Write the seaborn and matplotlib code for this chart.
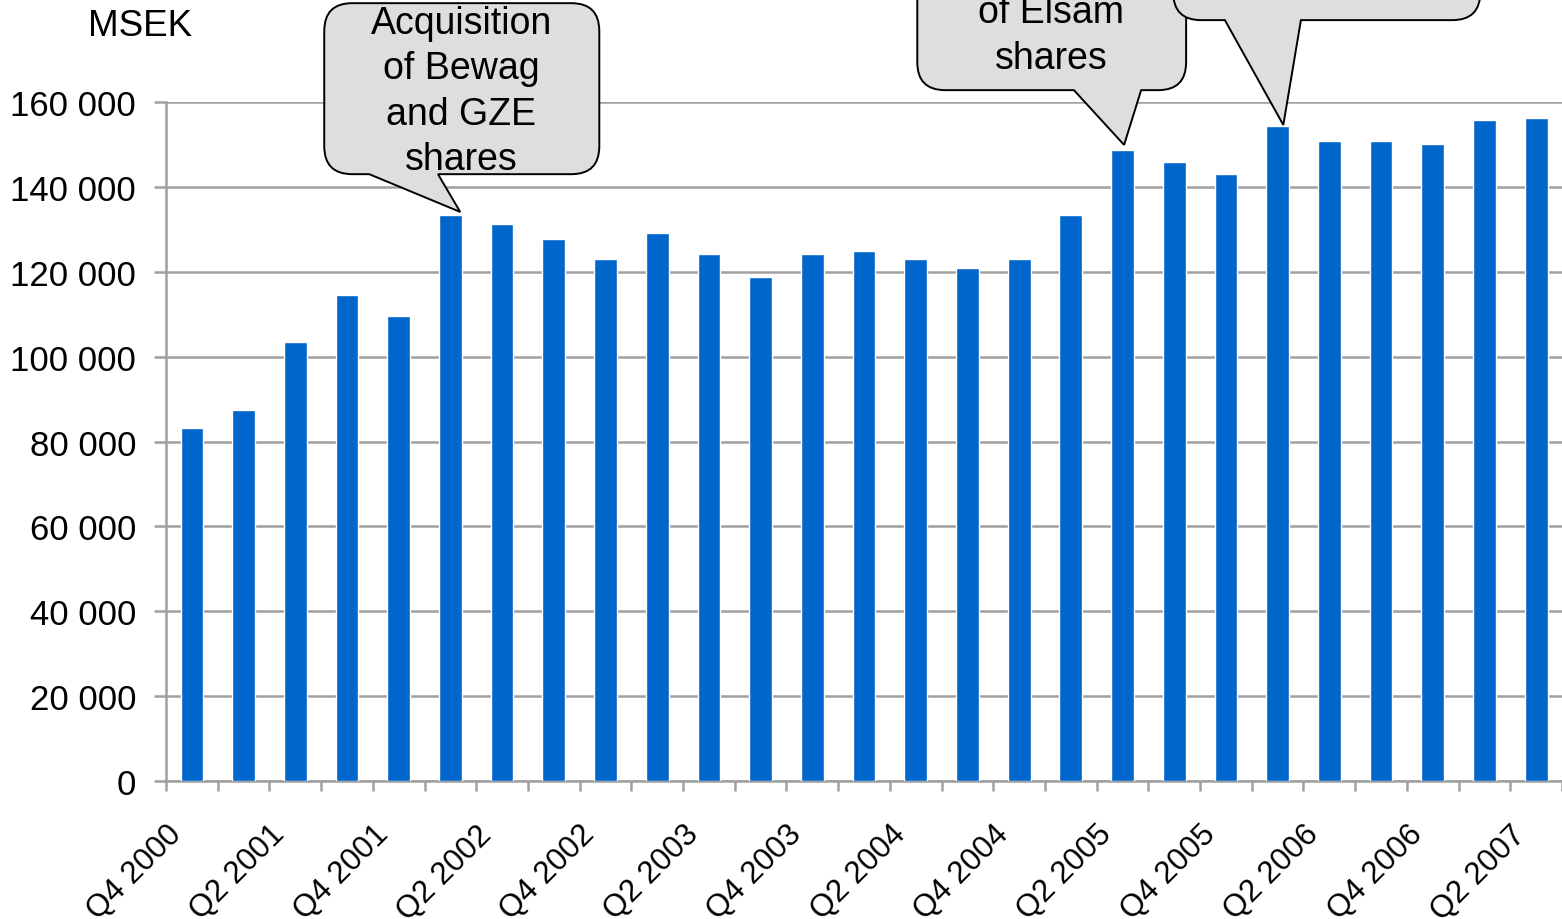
import matplotlib
matplotlib.use("Agg")
import matplotlib.pyplot as plt
import matplotlib.transforms as mtransforms
from matplotlib.path import Path
from matplotlib.patches import PathPatch
from matplotlib.ticker import FuncFormatter, MultipleLocator
import pandas as pd
import seaborn as sns

quarters = ["Q4 2000",
            "Q1 2001", "Q2 2001", "Q3 2001", "Q4 2001",
            "Q1 2002", "Q2 2002", "Q3 2002", "Q4 2002",
            "Q1 2003", "Q2 2003", "Q3 2003", "Q4 2003",
            "Q1 2004", "Q2 2004", "Q3 2004", "Q4 2004",
            "Q1 2005", "Q2 2005", "Q3 2005", "Q4 2005",
            "Q1 2006", "Q2 2006", "Q3 2006", "Q4 2006",
            "Q1 2007", "Q2 2007"]
msek = [83200, 87400, 103400, 114500, 109600,
        133400, 131200, 127700, 123000,
        129100, 124200, 118800, 124200,
        124900, 123000, 120900, 123000,
        133400, 148700, 145900, 143000,
        154300, 150800, 150800, 150100,
        155700, 156200]
shown_labels = quarters[::2]

df = pd.DataFrame({"Kvartal": quarters, "MSEK": msek})

sns.set_style("white")
plt.rcParams["font.family"] = ["Liberation Sans", "DejaVu Sans"]
plt.rcParams["text.color"] = "black"

grid_col = "#a0a0a0"
fig = plt.figure(figsize=(15.62, 9.2), dpi=100)
ax = fig.add_axes([0.1063, 0.15, 0.8937, 0.738])

sns.barplot(data=df, x="Kvartal", y="MSEK", order=quarters, color="#0066cc",
            saturation=1, width=0.44, ax=ax, zorder=3)

ax.set_xlim(-0.5, len(quarters) - 0.5)
ax.set_ylim(0, 160000)
ax.yaxis.set_major_locator(MultipleLocator(20000))
ax.yaxis.set_major_formatter(FuncFormatter(lambda v, p: f"{int(v):,}".replace(",", " ")))
ax.grid(axis="y", color=grid_col, linewidth=1.8, zorder=0)
ax.set_axisbelow(True)

for s in ["top", "right"]:
    ax.spines[s].set_visible(False)
for s in ["left", "bottom"]:
    ax.spines[s].set_color(grid_col)
    ax.spines[s].set_linewidth(1.8)

ax.set_xlabel("")
ax.set_ylabel("")
ax.tick_params(axis="y", labelsize=25, length=8.5, width=1.8, color=grid_col, pad=13,
               left=True, direction="out", labelcolor="black")

# labels on every other bar, tick marks on the category boundaries
ax.set_xticks(range(0, len(quarters), 2))
ax.set_xticklabels(shown_labels)
ax.set_xticks([i - 0.5 for i in range(len(quarters) + 1)], minor=True)
ax.tick_params(axis="x", which="major", length=0, labelsize=22.5, pad=35, labelcolor="black")
ax.tick_params(axis="x", which="minor", length=7.5, width=1.8, color=grid_col,
               bottom=True, direction="out")
shift = mtransforms.ScaledTranslation(-15 / 100, 0, fig.dpi_scale_trans)
for lab in ax.get_xticklabels():
    lab.set_rotation(45)
    lab.set_ha("right")
    lab.set_va("center")
    lab.set_rotation_mode("anchor")
    lab.set_transform(lab.get_transform() + shift)

fig.text(88 / 1562, 1 - 26 / 920, "MSEK", fontsize=26.5, ha="left", va="center")


def bubble(x0, x1, y0, y1, base_l, base_r, tip, rx=0.54, ry=6600):
    verts = [(base_l, y0), tip, (base_r, y0),
             (x1 - rx, y0), (x1, y0), (x1, y0 + ry),
             (x1, y1 - ry), (x1, y1), (x1 - rx, y1),
             (x0 + rx, y1), (x0, y1), (x0, y1 - ry),
             (x0, y0 + ry), (x0, y0), (x0 + rx, y0),
             (base_l, y0)]
    codes = [Path.MOVETO, Path.LINETO, Path.LINETO,
             Path.LINETO, Path.CURVE3, Path.CURVE3,
             Path.LINETO, Path.CURVE3, Path.CURVE3,
             Path.LINETO, Path.CURVE3, Path.CURVE3,
             Path.LINETO, Path.CURVE3, Path.CURVE3,
             Path.CLOSEPOLY]
    patch = PathPatch(Path(verts, codes), facecolor="#dcdfdc", edgecolor="black",
                      linewidth=1.4, clip_on=False, zorder=5)
    ax.add_patch(patch)


bubble(2.56, 7.88, 143000, 183300, 3.43, 4.76, (5.19, 134100))
ax.text(5.21, 162600, "Acquisition\nof Bewag\nand GZE\nshares", fontsize=27,
        ha="center", va="center", linespacing=1.34, zorder=6)

bubble(14.03, 19.23, 162800, 200000, 17.06, 18.36, (18.03, 149900))
ax.text(16.62, 175800, "of Elsam\nshares", fontsize=27,
        ha="center", va="center", linespacing=1.34, zorder=6, clip_on=False)

bubble(18.98, 24.92, 179300, 200000, 19.98, 21.45, (21.11, 154600))

fig.savefig("out.png", dpi=100)
